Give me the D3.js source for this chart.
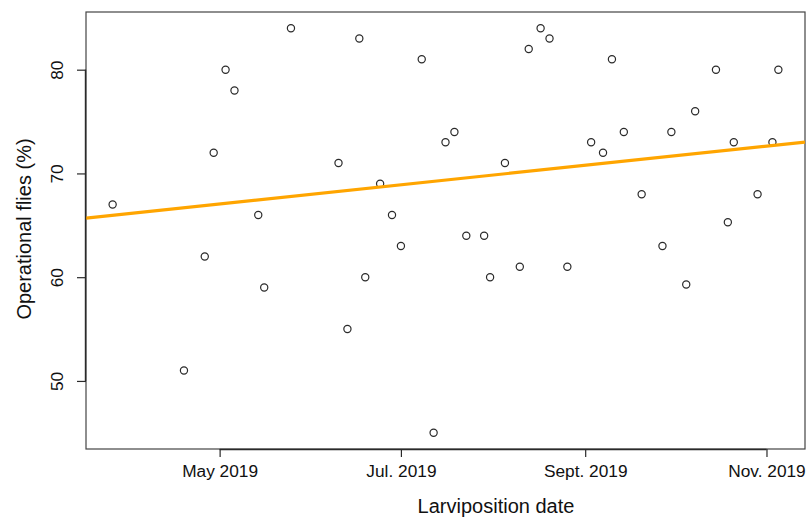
<!DOCTYPE html>
<html>
<head>
<meta charset="utf-8">
<script src="https://cdn.jsdelivr.net/npm/d3@7"></script>
<style>
  html, body { margin: 0; padding: 0; background: #fff; }
  svg { display: block; font-family: "Liberation Sans", Arial, Helvetica, sans-serif; }
</style>
</head>
<body>
<svg id="chart" width="807" height="517"></svg>
<script>
// Larviposition dates and the share of operational flies (%) on each date
const dates = [
  "2019-03-26", "2019-04-19", "2019-04-26", "2019-04-29", "2019-05-03", "2019-05-06",
  "2019-05-14", "2019-05-16", "2019-05-25", "2019-06-10", "2019-06-13", "2019-06-17",
  "2019-06-19", "2019-06-24", "2019-06-28", "2019-07-01", "2019-07-08", "2019-07-12",
  "2019-07-16", "2019-07-19", "2019-07-23", "2019-07-29", "2019-07-31", "2019-08-05",
  "2019-08-10", "2019-08-13", "2019-08-17", "2019-08-20", "2019-08-26", "2019-09-03",
  "2019-09-07", "2019-09-10", "2019-09-14", "2019-09-20", "2019-09-27", "2019-09-30",
  "2019-10-05", "2019-10-08", "2019-10-15", "2019-10-19", "2019-10-21", "2019-10-29",
  "2019-11-03", "2019-11-05"
];
const operational = [
  67, 51, 62, 72, 80, 78,
  66, 59, 84, 71, 55, 83,
  60, 69, 66, 63, 81, 45,
  73, 74, 64, 64, 60, 71,
  61, 82, 84, 83, 61, 73,
  72, 81, 74, 68, 63, 74,
  59.3, 76, 80, 65.3, 73, 68,
  73, 80
];

// Linear trend, given as fitted values on two reference dates
const trendDates = ["2019-05-01", "2019-11-01"];
const trendValues = [67.06, 72.63];

// Axis ticks
const xTickDates = ["2019-05-01", "2019-07-01", "2019-09-01", "2019-11-01"];
const xTickLabels = ["May 2019", "Jul. 2019", "Sept. 2019", "Nov. 2019"];
const yTicks = [50, 60, 70, 80];

const xTitle = "Larviposition date";
const yTitle = "Operational flies (%)";

const parse = d3.utcParse("%Y-%m-%d");
const points = dates.map((d, i) => ({ date: parse(d), value: operational[i] }));

const svg = d3.select("#chart");
const plot = { left: 86, right: 805, top: 12, bottom: 449 };

// Data extents padded by 4% on each side
function padded(ext) {
  const span = ext[1] - ext[0];
  return [ext[0] - span * 0.04, ext[1] + span * 0.04];
}
const xExt = padded(d3.extent(points, d => +d.date));
const yExt = padded(d3.extent(points, d => d.value));

const x = d3.scaleUtc().domain(xExt.map(t => new Date(t))).range([plot.left, plot.right]);
const y = d3.scaleLinear().domain(yExt).range([plot.bottom, plot.top]);

const ink = "#2a2a2a";

// clip region for the trend line
svg.append("clipPath").attr("id", "plotClip")
  .append("rect").attr("x", plot.left).attr("y", plot.top)
  .attr("width", plot.right - plot.left).attr("height", plot.bottom - plot.top);

// Plot frame
svg.append("rect")
  .attr("x", plot.left).attr("y", plot.top)
  .attr("width", plot.right - plot.left).attr("height", plot.bottom - plot.top)
  .attr("fill", "none").attr("stroke", "#444").attr("stroke-width", 1.2);

// Points
svg.append("g").selectAll("circle").data(points).join("circle")
  .attr("cx", d => x(d.date))
  .attr("cy", d => y(d.value))
  .attr("r", 3.6)
  .attr("fill", "none")
  .attr("stroke", ink)
  .attr("stroke-width", 1.2);

// Trend line extended across the full plot width
const t0 = +parse(trendDates[0]), t1 = +parse(trendDates[1]);
const slope = (trendValues[1] - trendValues[0]) / (t1 - t0);
const trendAt = t => trendValues[0] + slope * (t - t0);
svg.append("line")
  .attr("clip-path", "url(#plotClip)")
  .attr("x1", x(new Date(xExt[0]))).attr("y1", y(trendAt(xExt[0])))
  .attr("x2", x(new Date(xExt[1]))).attr("y2", y(trendAt(xExt[1])))
  .attr("stroke", "#FFA500")
  .attr("stroke-width", 3.2);

// X axis
const xAxis = d3.axisBottom(x)
  .tickValues(xTickDates.map(parse))
  .tickFormat((d, i) => xTickLabels[i])
  .tickSizeInner(8).tickSizeOuter(0).tickPadding(8);
const gx = svg.append("g").attr("transform", `translate(0,${plot.bottom})`).call(xAxis);
gx.select(".domain")
  .attr("d", `M${x(parse(xTickDates[0]))},0.5H${x(parse(xTickDates[xTickDates.length - 1]))}`)
  .attr("stroke", ink).attr("stroke-width", 1.4);
gx.selectAll(".tick line").attr("stroke", ink).attr("stroke-width", 1.2);
gx.selectAll(".tick text")
  .attr("fill", "#111").attr("font-size", 17.3)
  .attr("font-family", "Liberation Sans, Arial, sans-serif");

// Y axis, labels rotated to run parallel to the axis
const yAxis = d3.axisLeft(y)
  .tickValues(yTicks)
  .tickSizeInner(9).tickSizeOuter(0);
const gy = svg.append("g").attr("transform", `translate(${plot.left},0)`).call(yAxis);
gy.select(".domain")
  .attr("d", `M-0.5,${y(yTicks[0])}V${y(yTicks[yTicks.length - 1])}`)
  .attr("stroke", ink).attr("stroke-width", 1.4);
gy.selectAll(".tick line").attr("stroke", ink).attr("stroke-width", 1.2);
gy.selectAll(".tick text")
  .attr("fill", "#111").attr("font-size", 17.3)
  .attr("font-family", "Liberation Sans, Arial, sans-serif")
  .attr("x", null).attr("dy", null)
  .attr("text-anchor", "middle")
  .attr("transform", "translate(-23,0) rotate(-90)");

// Axis titles
svg.append("text")
  .attr("x", 496).attr("y", 513)
  .attr("text-anchor", "middle")
  .attr("font-size", 20).attr("fill", "#111")
  .text(xTitle);

svg.append("text")
  .attr("transform", `translate(31,229) rotate(-90)`)
  .attr("text-anchor", "middle")
  .attr("font-size", 20).attr("fill", "#111")
  .text(yTitle);
</script>
</body>
</html>
